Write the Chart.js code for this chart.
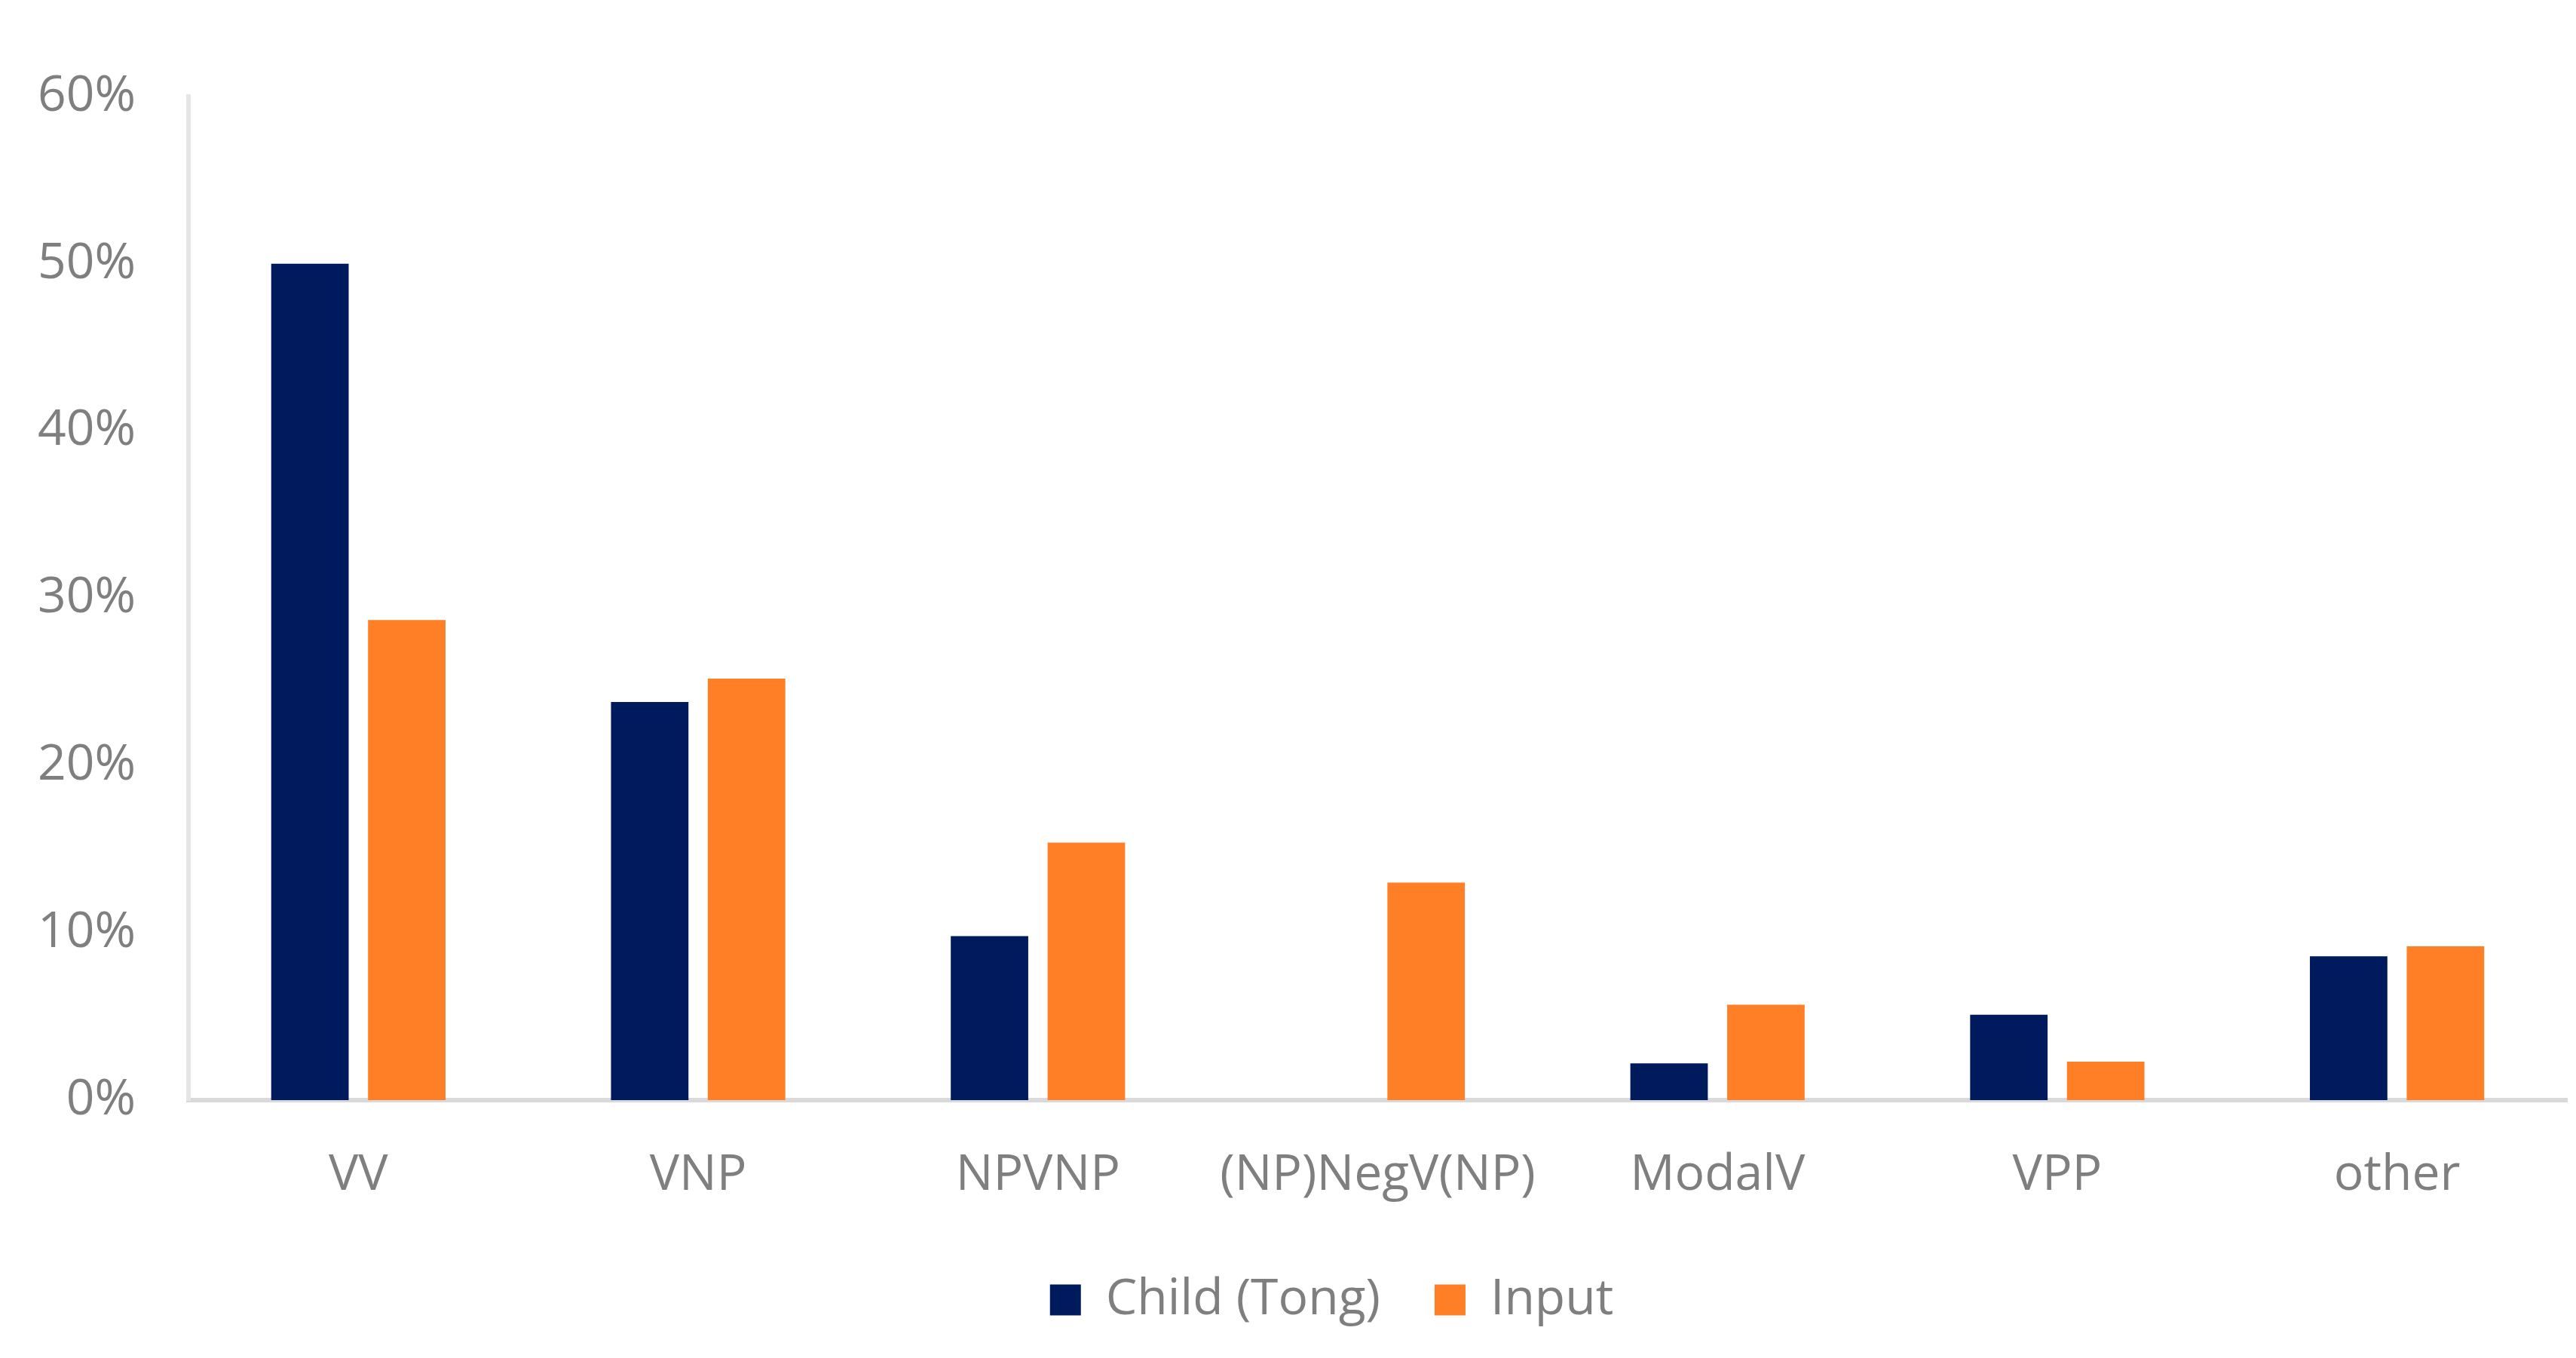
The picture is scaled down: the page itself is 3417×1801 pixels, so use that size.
<!DOCTYPE html>
<html>
<head>
<meta charset="utf-8">
<script src="https://cdn.jsdelivr.net/npm/chart.js@4.4.1/dist/chart.umd.min.js"></script>
<style>
  html, body { margin: 0; padding: 0; background: #ffffff; }
  #wrap { width: 3417px; height: 1801px; }
</style>
</head>
<body>
<div id="wrap"><canvas id="construction-chart"></canvas></div>
<script>
const categories = ['VV', 'VNP', 'NPVNP', '(NP)NegV(NP)', 'ModalV', 'VPP', 'other'];
const childTong = [50.0, 23.8, 9.8, 0, 2.2, 5.1, 8.6];
const inputValues = [28.7, 25.2, 15.4, 13.0, 5.7, 2.3, 9.2];
const yTicks = [0, 10, 20, 30, 40, 50, 60];

// the legend in the original sits a bit right of the canvas centre
const legendShift = {
  id: 'legendShift',
  afterLayout(chart) {
    chart.legend.left += 64;
    chart.legend.right += 64;
  }
};

function constructionChart() {
  const textGrey = '#7f7f7f';
  const font = { family: '"Open Sans", "Noto Sans", sans-serif', size: 66 };

  const ctx = document.getElementById('construction-chart');
  new Chart(ctx, {
    type: 'bar',
    data: {
      labels: categories,
      datasets: [{
        label: 'Child (Tong)',
        data: childTong,
        backgroundColor: '#001a5e',
        barPercentage: 0.8,
        categoryPercentage: 0.57
      }, {
        label: 'Input',
        data: inputValues,
        backgroundColor: '#ff7f27',
        barPercentage: 0.8,
        categoryPercentage: 0.57
      }]
    },
    plugins: [legendShift],
    options: {
      responsive: true,
      maintainAspectRatio: false,
      devicePixelRatio: 1,
      animation: false,
      layout: {
        padding: { top: 128, right: 12, bottom: 34, left: 0 }
      },
      plugins: {
        tooltip: { enabled: false },
        legend: {
          position: 'bottom',
          labels: {
            color: textGrey,
            font: font,
            boxWidth: 41,
            boxHeight: 41,
            padding: 72
          }
        }
      },
      scales: {
        x: {
          afterFit: function (scale) { scale.height = 160; },
          grid: { display: false, drawTicks: false },
          border: { display: true, color: '#d9d9d9', width: 6 },
          ticks: { color: textGrey, font: font, padding: 61, maxRotation: 0 }
        },
        y: {
          min: 0,
          max: 60,
          afterFit: function (scale) { scale.width = 250; },
          afterBuildTicks: function (scale) {
            scale.ticks = yTicks.map(v => ({ value: v }));
          },
          grid: { display: false, drawTicks: false },
          border: { display: true, color: '#e6e6e6', width: 6 },
          ticks: {
            color: textGrey,
            font: font,
            padding: 70,
            callback: v => v + '%'
          }
        }
      }
    }
  });
}

constructionChart()
</script>
</body>
</html>
